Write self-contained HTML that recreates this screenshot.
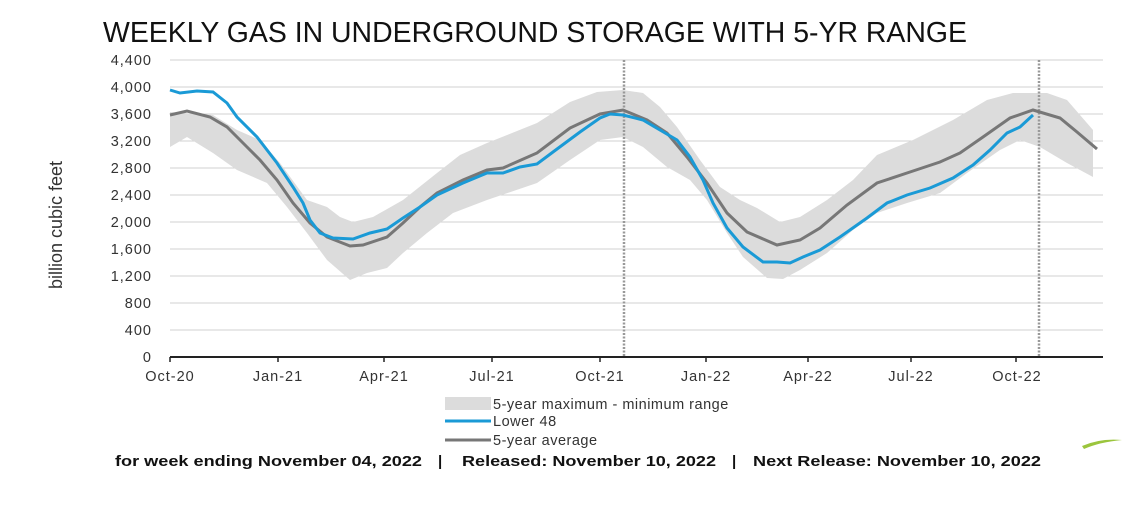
<!DOCTYPE html>
<html><head><meta charset="utf-8"><style>
body{margin:0;background:#fff;width:1141px;height:511px;overflow:hidden;font-family:"Liberation Sans",sans-serif}
</style></head><body>
<svg width="1141" height="511" xmlns="http://www.w3.org/2000/svg" font-family="Liberation Sans, sans-serif">
<text x="103" y="42" font-size="29" fill="#111" textLength="864" lengthAdjust="spacingAndGlyphs">WEEKLY GAS IN UNDERGROUND STORAGE WITH 5-YR RANGE</text>
<g stroke="#d0d0d0" stroke-width="1">
<line x1="170" x2="1103" y1="60" y2="60"/><line x1="170" x2="1103" y1="87" y2="87"/><line x1="170" x2="1103" y1="114" y2="114"/><line x1="170" x2="1103" y1="141" y2="141"/><line x1="170" x2="1103" y1="168" y2="168"/><line x1="170" x2="1103" y1="195" y2="195"/><line x1="170" x2="1103" y1="222" y2="222"/><line x1="170" x2="1103" y1="249" y2="249"/><line x1="170" x2="1103" y1="276" y2="276"/><line x1="170" x2="1103" y1="303" y2="303"/><line x1="170" x2="1103" y1="330" y2="330"/>
</g>
<polygon fill="#dcdcdc" points="170,112 213,115 237,130 260,140 280,163 307,200 327,207 340,217 353,222 373,217 403,200 437,173 460,155 487,143 537,123 570,102 597,92 623,90 643,93 660,107 677,127 700,160 720,187 740,200 757,208 780,222 800,217 827,200 853,180 877,155 913,140 953,120 987,100 1013,93 1047,93 1067,100 1093,130 1093,177 1067,163 1040,147 1020,140 1000,150 967,173 940,193 907,203 877,213 853,230 827,253 800,270 783,279 767,278 743,257 727,233 707,200 690,180 667,167 643,147 623,137 600,140 570,160 537,183 487,200 453,213 427,233 403,253 387,268 367,273 350,280 327,260 307,233 287,207 267,183 237,170 213,153 187,137 170,147"/>
<g stroke="#999" stroke-width="2.5" stroke-dasharray="2,1.5">
<line x1="624" x2="624" y1="60" y2="357"/><line x1="1039" x2="1039" y1="60" y2="357"/></g>
<polyline fill="none" stroke="#777" stroke-width="3" points="170,115 187,111 210,117 227,127 247,147 260,160 277,180 293,203 310,223 327,237 350,246 363,245 387,237 403,223 420,207 437,193 463,180 487,170 503,168 537,153 570,128 600,114 623,110 647,120 667,133 687,157 707,183 727,213 747,232 777,245 800,240 820,228 847,205 877,183 910,172 940,162 960,153 983,137 1010,118 1033,110 1060,118 1077,132 1097,149"/>
<polyline fill="none" stroke="#1a9ad6" stroke-width="3" points="170,90 180,93 197,91 213,92 227,103 237,117 257,137 277,163 293,187 303,203 310,220 320,233 333,238 353,239 370,233 387,229 403,218 420,207 437,195 463,183 487,173 503,173 520,167 537,164 553,152 580,132 600,118 610,114 623,115 643,120 660,130 677,140 690,157 703,180 713,203 727,228 743,247 763,262 777,262 790,263 803,257 820,250 840,237 867,218 887,203 907,195 930,188 953,178 973,165 990,150 1007,133 1020,127 1033,115"/>
<g stroke="#222" stroke-width="2"><line x1="170" x2="1103" y1="357" y2="357"/></g>
<g stroke="#222" stroke-width="1.5"><line x1="170" x2="170" y1="357" y2="362"/><line x1="278" x2="278" y1="357" y2="362"/><line x1="384" x2="384" y1="357" y2="362"/><line x1="492" x2="492" y1="357" y2="362"/><line x1="600" x2="600" y1="357" y2="362"/><line x1="706" x2="706" y1="357" y2="362"/><line x1="808" x2="808" y1="357" y2="362"/><line x1="911" x2="911" y1="357" y2="362"/><line x1="1016" x2="1016" y1="357" y2="362"/></g>
<g font-size="14.5" fill="#333" text-anchor="end" letter-spacing="1">
<text x="152" y="65">4,400</text><text x="152" y="92">4,000</text><text x="152" y="119">3,600</text><text x="152" y="146">3,200</text><text x="152" y="173">2,800</text><text x="152" y="200">2,400</text><text x="152" y="227">2,000</text><text x="152" y="254">1,600</text><text x="152" y="281">1,200</text><text x="152" y="308">800</text><text x="152" y="335">400</text><text x="152" y="362">0</text></g>
<g font-size="14.5" fill="#333" text-anchor="middle" letter-spacing="1">
<text x="170" y="381">Oct-20</text><text x="278" y="381">Jan-21</text><text x="384" y="381">Apr-21</text><text x="492" y="381">Jul-21</text><text x="600" y="381">Oct-21</text><text x="706" y="381">Jan-22</text><text x="808" y="381">Apr-22</text><text x="911" y="381">Jul-22</text><text x="1017" y="381">Oct-22</text></g>
<text transform="translate(62,225) rotate(-90)" font-size="18" fill="#333" text-anchor="middle">billion cubic feet</text>
<rect x="445" y="397" width="46" height="13" fill="#dcdcdc"/>
<line x1="445" x2="491" y1="421" y2="421" stroke="#1a9ad6" stroke-width="3"/>
<line x1="445" x2="491" y1="440" y2="440" stroke="#777" stroke-width="3"/>
<g font-size="14.5" fill="#333" letter-spacing="0.5"><text x="493" y="409">5-year maximum - minimum range</text><text x="493" y="426">Lower 48</text><text x="493" y="445">5-year average</text></g>
<g font-size="15" font-weight="bold" fill="#111">
<text x="115" y="466" textLength="307" lengthAdjust="spacingAndGlyphs">for week ending November 04, 2022</text>
<text x="438" y="466">|</text>
<text x="462" y="466" textLength="254" lengthAdjust="spacingAndGlyphs">Released: November 10, 2022</text>
<text x="732" y="466">|</text>
<text x="753" y="466" textLength="288" lengthAdjust="spacingAndGlyphs">Next Release: November 10, 2022</text>
</g>
<path d="M1082,446 Q1100,438 1122,440 Q1100,442 1084,449 Z" fill="#9bc53d"/>
</svg>
</body></html>
